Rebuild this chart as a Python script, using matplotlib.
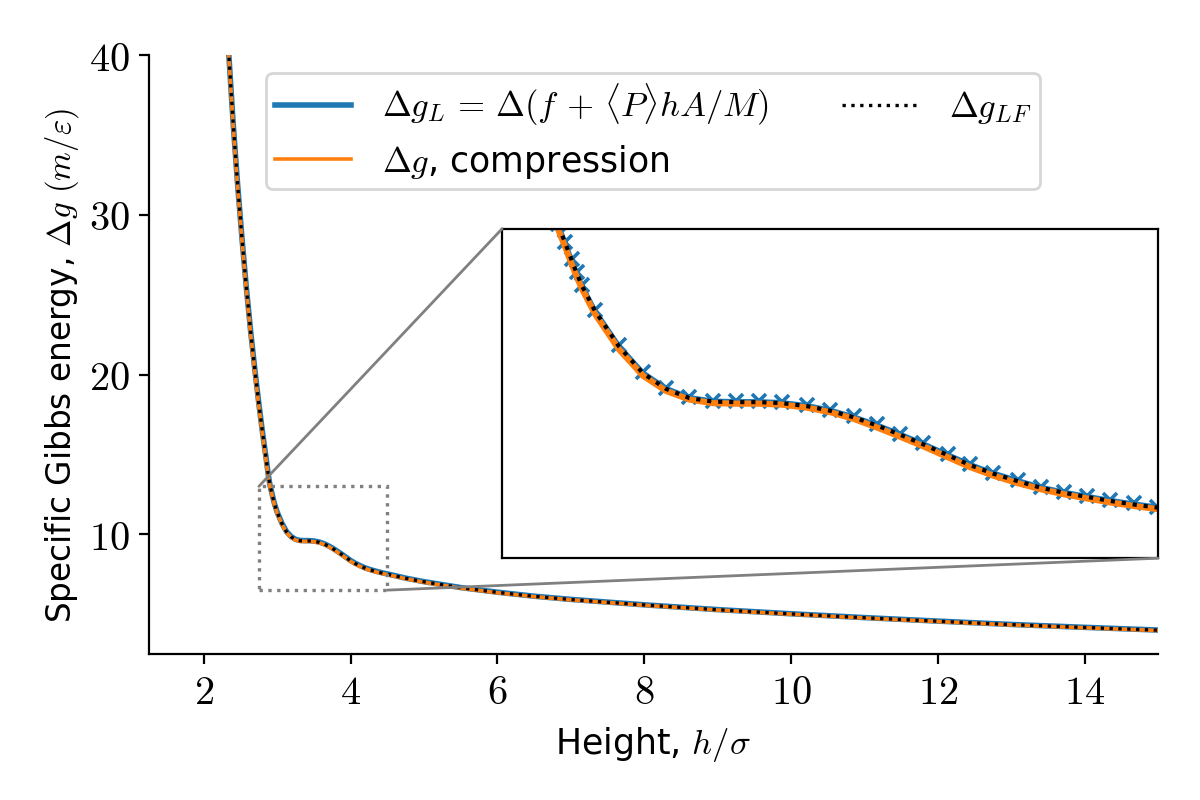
import matplotlib
matplotlib.use("Agg")
import matplotlib.pyplot as plt
from matplotlib.ticker import FuncFormatter
from matplotlib.patches import Rectangle, ConnectionPatch

plt.rcParams['font.family'] = ['DejaVu Sans']
plt.rcParams['mathtext.fontset'] = 'cm'
plt.rcParams['font.size'] = 11

# height h/sigma
h = [2.32, 2.40, 2.46, 2.52, 2.58, 2.64, 2.70, 2.75, 2.80, 2.85, 2.88, 2.90,
     2.918, 2.936, 2.949, 2.963, 2.998, 3.062, 3.126, 3.188, 3.250, 3.312, 3.373,
     3.435, 3.497, 3.564, 3.626, 3.688, 3.750, 3.811, 3.873, 3.940, 3.998, 4.060,
     4.126, 4.188, 4.250, 4.310, 4.373, 4.435, 4.497,
     4.75, 5.0, 5.5, 6.0, 6.5, 7.0, 8.0, 9.0, 10.0, 11.0, 12.0, 13.0, 14.0, 15.0]

# Delta g_L
g_L = [41.5, 35.7, 31.9, 28.5, 25.4, 22.6, 20.1, 18.15, 16.35, 14.7, 13.65, 13.1,
       12.75, 12.40, 12.15, 11.90, 11.40, 10.70, 10.17, 9.86, 9.68, 9.61, 9.60,
       9.60, 9.58, 9.52, 9.43, 9.30, 9.14, 8.96, 8.77, 8.55, 8.36, 8.19,
       8.04, 7.91, 7.81, 7.73, 7.65, 7.58, 7.52,
       7.25, 7.03, 6.66, 6.37, 6.12, 5.92, 5.58, 5.28, 5.02, 4.78, 4.56, 4.35, 4.17, 4.00]

# Delta g, compression
g_comp = [41.3, 35.5, 31.7, 28.3, 25.2, 22.4, 19.9, 17.95, 16.15, 14.5, 13.5, 12.98,
          12.65, 12.30, 12.06, 11.82, 11.32, 10.62, 10.10, 9.80, 9.63, 9.56, 9.55,
          9.55, 9.53, 9.47, 9.38, 9.25, 9.08, 8.90, 8.71, 8.49, 8.30, 8.13,
          7.98, 7.86, 7.76, 7.68, 7.60, 7.53, 7.47,
          7.21, 6.99, 6.62, 6.33, 6.09, 5.89, 5.55, 5.25, 4.99, 4.75, 4.53, 4.32, 4.14, 3.97]

# Delta g_LF
g_LF = [41.5, 35.7, 31.9, 28.5, 25.4, 22.6, 20.1, 18.15, 16.35, 14.7, 13.65, 13.08,
        12.73, 12.38, 12.13, 11.88, 11.38, 10.68, 10.15, 9.84, 9.66, 9.59, 9.58,
        9.58, 9.56, 9.50, 9.41, 9.28, 9.12, 8.94, 8.75, 8.53, 8.34, 8.17,
        8.02, 7.89, 7.79, 7.71, 7.63, 7.56, 7.50,
        7.24, 7.02, 6.65, 6.36, 6.11, 5.91, 5.57, 5.27, 5.01, 4.77, 4.55, 4.34, 4.16, 3.99]

zoom_x = (2.75, 4.5)
zoom_y = (6.5, 13)

fig = plt.figure(figsize=(6, 4), dpi=200)
ax = fig.add_axes([0.124, 0.1825, 0.841, 0.7485])

lab_L = r'$\Delta g_L\, =\, \Delta(f\, +\, \langle P\rangle hA/M)$'
lab_c = r'$\Delta g$, compression'
lab_LF = r'$\Delta g_{LF}$'

ax.plot(h, g_L, color='C0', lw=2.0, label=lab_L)
ax.plot(h, g_comp, color='C1', lw=1.3, label=lab_c)
ax.plot(h, g_LF, color='k', ls=':', lw=1.2, label=lab_LF)

ax.set_xlim(1.25, 15)
ax.set_ylim(2.5, 40)
ax.set_xticks([2, 4, 6, 8, 10, 12, 14])
ax.set_yticks([10, 20, 30, 40])
fmt = FuncFormatter(lambda v, p: '$%g$' % v)
ax.xaxis.set_major_formatter(fmt)
ax.yaxis.set_major_formatter(fmt)
ax.tick_params(labelsize=14.5)
ax.spines['top'].set_visible(False)
ax.spines['right'].set_visible(False)
ax.set_xlabel(r'Height, $h/\sigma$', fontsize=12.5)
ax.set_ylabel(r'Specific Gibbs energy, $\Delta g$ $(m/\varepsilon)$', fontsize=11.8)
ax.yaxis.set_label_coords(-0.067, 0.482)

ax.legend(ncol=2, loc='upper left', bbox_to_anchor=(0.116, 0.97),
          borderaxespad=0, fontsize=12.5, columnspacing=2.1,
          labelspacing=0.42, borderpad=0.25, handlelength=2.2, handletextpad=0.9)

# inset
axins = ax.inset_axes([0.35, 0.16, 0.65, 0.55])
axins.plot(h, g_L, color='C0', lw=1.5, marker='x', ms=5, mew=1.3)
axins.plot(h, g_comp, color='C1', lw=2.2)
axins.plot(h, g_LF, color='k', ls=':', lw=1.5)
axins.set_xlim(*zoom_x)
axins.set_ylim(*zoom_y)
axins.set_xticks([])
axins.set_yticks([])

rect = Rectangle((zoom_x[0], zoom_y[0]), zoom_x[1] - zoom_x[0], zoom_y[1] - zoom_y[0],
                 fill=False, edgecolor='gray', ls=':', lw=1.2, zorder=4)
ax.add_patch(rect)
c1 = ConnectionPatch(xyA=(zoom_x[0], zoom_y[1]), coordsA=ax.transData,
                     xyB=(0, 1), coordsB=axins.transAxes, color='gray', lw=1.0)
c2 = ConnectionPatch(xyA=(zoom_x[1], zoom_y[0]), coordsA=ax.transData,
                     xyB=(1, 0), coordsB=axins.transAxes, color='gray', lw=1.0)
fig.add_artist(c1)
fig.add_artist(c2)

fig.savefig('out.png', dpi=200)
